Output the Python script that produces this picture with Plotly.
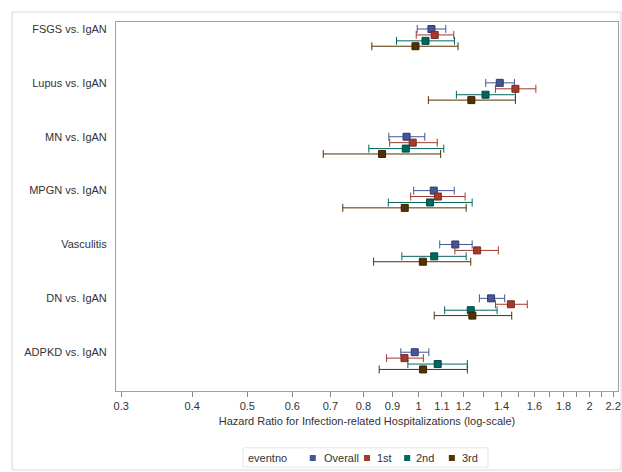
import plotly.graph_objects as go

categories = ["FSGS vs. IgAN", "Lupus vs. IgAN", "MN vs. IgAN", "MPGN vs. IgAN",
              "Vasculitis", "DN vs. IgAN", "ADPKD vs. IgAN"]
series = ["Overall", "1st", "2nd", "3rd"]

# hazard ratios and 95% CI per series (order follows categories)
hr_overall = [1.054, 1.390, 0.953, 1.064, 1.161, 1.342, 0.985]
lo_overall = [0.995, 1.313, 0.887, 0.981, 1.090, 1.280, 0.931]
hi_overall = [1.117, 1.475, 1.026, 1.156, 1.243, 1.418, 1.043]

hr_1st = [1.068, 1.481, 0.977, 1.082, 1.268, 1.454, 0.945]
lo_1st = [0.991, 1.366, 0.890, 0.969, 1.159, 1.366, 0.879]
hi_1st = [1.154, 1.609, 1.079, 1.208, 1.382, 1.554, 1.020]

hr_2nd = [1.029, 1.312, 0.950, 1.048, 1.066, 1.236, 1.081]
lo_2nd = [0.915, 1.166, 0.818, 0.885, 0.935, 1.112, 0.958]
hi_2nd = [1.157, 1.481, 1.108, 1.243, 1.213, 1.375, 1.219]

hr_3rd = [0.988, 1.239, 0.863, 0.946, 1.018, 1.244, 1.019]
lo_3rd = [0.828, 1.041, 0.680, 0.736, 0.834, 1.066, 0.853]
hi_3rd = [1.174, 1.481, 1.094, 1.213, 1.236, 1.459, 1.219]

tick_vals = [0.3, 0.4, 0.5, 0.6, 0.7, 0.8, 0.9, 1, 1.1, 1.2, 1.3, 1.4, 1.5, 1.6, 1.7, 1.8, 1.9, 2, 2.1, 2.2]
tick_text = ["0.3", "0.4", "0.5", "0.6", "0.7", "0.8", "0.9", "1", "1.1", "1.2", "", "1.4", "", "1.6", "", "1.8", "", "2", "", "2.2"]

colors = ["#445694", "#A23A2E", "#01665E", "#543005"]
edge = ["#2e3a6e", "#7a2a20", "#004a44", "#3a2003"]
offsets = [0.0, 0.11, 0.22, 0.32]

data = [(hr_overall, lo_overall, hi_overall), (hr_1st, lo_1st, hi_1st),
        (hr_2nd, lo_2nd, hi_2nd), (hr_3rd, lo_3rd, hi_3rd)]

fig = go.Figure()
for k, (name, (hr, lo, hi)) in enumerate(zip(series, data)):
    ys = [i + offsets[k] for i in range(len(categories))]
    fig.add_trace(go.Scatter(
        x=hr, y=ys, mode="markers", name=name, showlegend=False,
        marker=dict(symbol="square", size=7, color=colors[k], line=dict(color=edge[k], width=1)),
        error_x=dict(type="data", symmetric=False,
                     array=[h - m for h, m in zip(hi, hr)],
                     arrayminus=[m - l for m, l in zip(hr, lo)],
                     color=colors[k], thickness=1, width=4),
    ))

# outer frame
fig.add_shape(type="rect", xref="paper", yref="paper",
              x0=-0.207, x1=1.006, y0=-0.214, y1=1.027,
              line=dict(color="#d8d8d8", width=1), layer="below")

# compact legend (built manually to match the reference spacing)
leg_y = -0.1816
fig.add_shape(type="rect", xref="paper", yref="paper",
              x0=0.253, x1=0.741, y0=-0.206, y1=-0.154,
              line=dict(color="#e6e6e6", width=1), layer="below")
fig.add_annotation(xref="paper", yref="paper", x=0.259, y=leg_y, text="eventno",
                   showarrow=False, xanchor="left", yanchor="middle",
                   font=dict(size=11, color="#333333"))
sq_x = [0.392, 0.500, 0.580, 0.669]
tx_x = [0.410, 0.516, 0.594, 0.685]
for k, name in enumerate(series):
    fig.add_shape(type="rect", xref="paper", yref="paper",
                  x0=sq_x[k] - 0.006, x1=sq_x[k] + 0.006,
                  y0=leg_y - 0.0081, y1=leg_y + 0.0081,
                  fillcolor=colors[k], line=dict(width=0))
    fig.add_annotation(xref="paper", yref="paper", x=tx_x[k], y=leg_y, text=name,
                       showarrow=False, xanchor="left", yanchor="middle",
                       font=dict(size=11, color="#333333"))

fig.update_layout(
    width=622, height=472,
    margin=dict(l=116, r=4, t=22, b=81, autoexpand=False),
    paper_bgcolor="white", plot_bgcolor="white",
    font=dict(family="Liberation Sans, Arial, sans-serif", size=11, color="#333333"),
    showlegend=False,
    xaxis=dict(type="log", range=[-0.532, 0.351],
               tickvals=tick_vals, ticktext=tick_text,
               ticks="outside", ticklen=5, tickcolor="#888888",
               showgrid=False, zeroline=False, automargin=False,
               showline=True, linecolor="#a0a0a0", linewidth=1, mirror=True,
               tickfont=dict(size=11, color="#333333"),
               title=dict(text="Hazard Ratio for Infection-related Hospitalizations (log-scale)",
                          font=dict(size=11, color="#333333"), standoff=6)),
    yaxis=dict(range=[6.72, -0.13], tickvals=list(range(len(categories))), ticktext=categories,
               ticks="", showgrid=False, zeroline=False, automargin=False,
               showline=True, linecolor="#a0a0a0", linewidth=1, mirror=True,
               tickfont=dict(size=11, color="#333333"), ticklabelstandoff=6),
)

fig.write_html("out.html",
               config={"displayModeBar": False},
               post_script="document.body.style.margin='0';"
                           "document.body.style.overflow='hidden';"
                           "document.documentElement.style.overflow='hidden';")
